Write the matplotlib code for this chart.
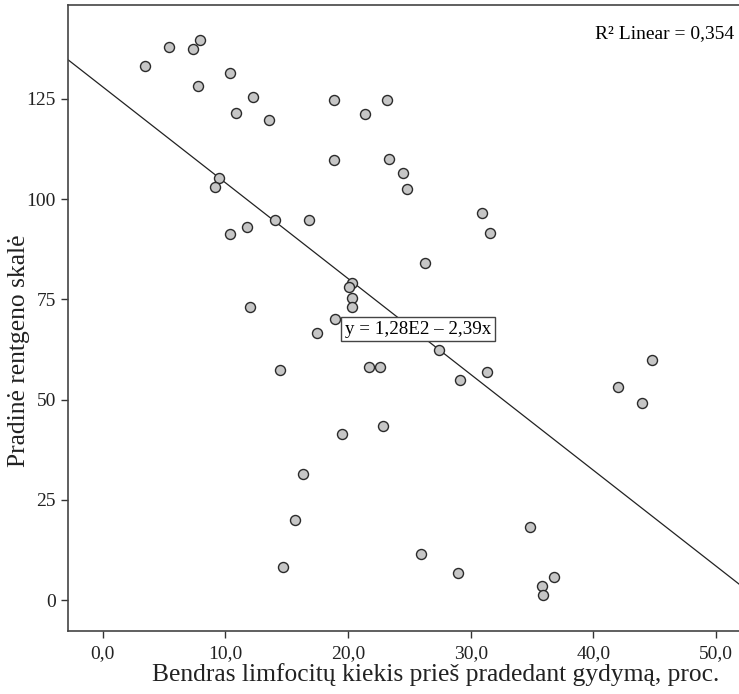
import numpy as np
import matplotlib
matplotlib.use('Agg')
import matplotlib.pyplot as plt

# limfocitų kiekis (%) ir pradinė rentgeno skalė
limf = [3.45, 5.45, 7.4, 7.95, 7.75, 10.4, 12.25, 10.85, 13.55, 18.85, 21.35, 23.15,
        18.85, 23.35, 24.45, 24.8, 9.45, 9.2, 14.05, 16.85, 11.8, 10.35, 20.3, 20.1,
        20.3, 20.3, 12.0, 18.95, 17.5, 27.45, 14.45, 21.7, 22.6, 29.15, 31.35, 22.85,
        19.5, 16.3, 15.65, 14.7, 25.95, 28.95, 30.9, 31.55, 26.25, 44.8, 42.0, 43.95,
        34.85, 36.8, 35.8, 35.9]
rtg = [133.1, 138.0, 137.4, 139.6, 128.2, 131.4, 125.4, 121.4, 119.6, 124.7, 121.2, 124.7,
       109.7, 109.9, 106.5, 102.4, 105.2, 102.9, 94.7, 94.7, 93.1, 91.3, 79.2, 78.2,
       75.3, 73.0, 73.0, 70.0, 66.7, 62.3, 57.5, 58.1, 58.1, 54.9, 56.8, 43.3,
       41.5, 31.4, 19.9, 8.3, 11.6, 6.7, 96.6, 91.5, 84.0, 59.8, 53.2, 49.1,
       18.2, 5.8, 3.5, 1.4]

b0 = 128.0   # 1,28E2
b1 = -2.39
r2 = 0.354

xticks = [0, 10, 20, 30, 40, 50]
yticks = [0, 25, 50, 75, 100, 125]

plt.rcParams['font.family'] = ['Liberation Serif', 'DejaVu Serif']

fig = plt.figure(figsize=(7.39, 6.94), dpi=100)
ax = fig.add_axes([68.3/739, 63/694, 1 - 68.3/739 + 0.002, (631-5)/694])

xmin, xmax = -2.8, 52.0
ax.set_xlim(xmin, xmax)
ax.set_ylim(-7.7, 148.4)

xl = np.array([xmin, xmax])
ax.plot(xl, b0 + b1*xl, color='#222222', linewidth=0.9, zorder=2)

ax.scatter(limf, rtg, s=52, facecolor='#c6c6c6', edgecolor='#2a2a2a',
           linewidth=1.0, zorder=3)

ax.text(19.75, 67.6, 'y = 1,28E2 \u2013 2,39x', fontsize=13.7, ha='left', va='center',
        bbox=dict(boxstyle='square,pad=0.18', facecolor='white', edgecolor='#444444',
                  linewidth=1.0), zorder=4)
ax.text(0.991, 0.955, 'R\u00b2 Linear = %s' % ('%.3f' % r2).replace('.', ','),
        transform=ax.transAxes, fontsize=14, ha='right', va='center')

ax.set_xticks(xticks)
ax.set_xticklabels([('%.1f' % t).replace('.', ',') for t in xticks])
ax.set_yticks(yticks)
ax.tick_params(direction='out', length=5, width=1, colors='#333333',
               labelsize=14, labelcolor='#222222', pad=4)
ax.tick_params(axis='x', pad=5.5)

for s in ['left', 'bottom', 'top']:
    ax.spines[s].set_color('#444444')
    ax.spines[s].set_linewidth(1.2)
ax.spines['right'].set_visible(False)

ax.set_xlabel('Bendras limfocitų kiekis prieš pradedant gydymą, proc.', fontsize=18.4,
              color='#222222')
ax.set_ylabel('Pradinė rentgeno skalė', fontsize=18.4, color='#222222')
ax.xaxis.set_label_coords(0.547, -0.051)
ax.yaxis.set_label_coords(-0.057, 0.447)

fig.savefig('out.png', dpi=100)
